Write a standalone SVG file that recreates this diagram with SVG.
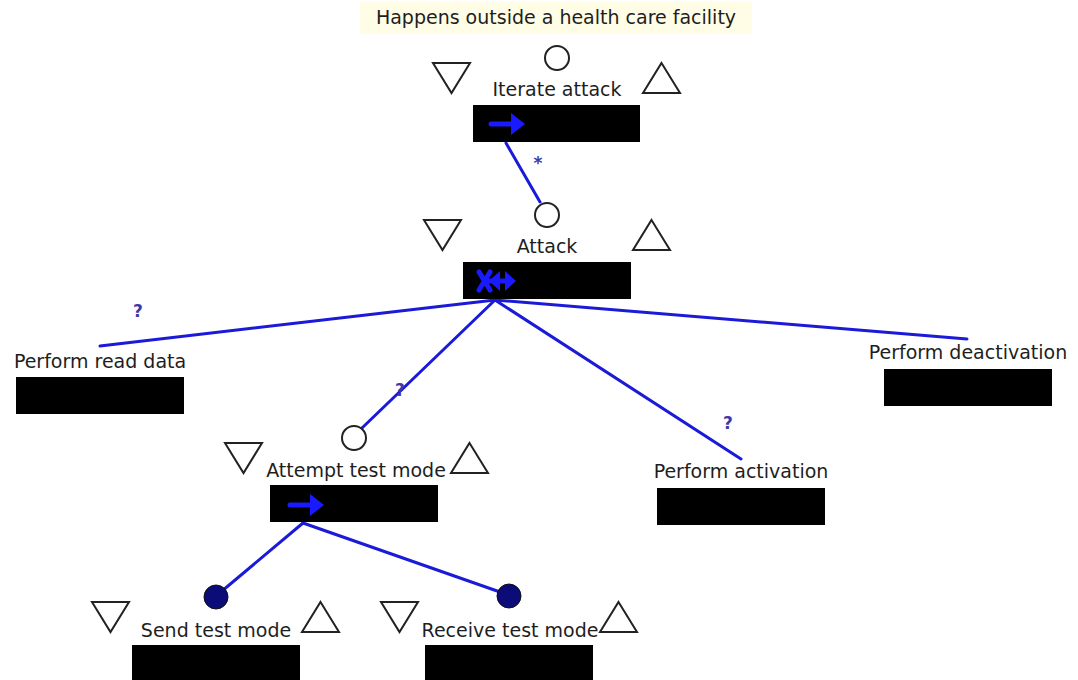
<svg xmlns="http://www.w3.org/2000/svg" width="1078" height="680" viewBox="0 0 1078 680">
  <defs>
    <style>
      .lbl { font-family: "DejaVu Sans", "Liberation Sans", sans-serif; font-size: 19px; fill: #1e1e1e; text-anchor: middle; }
      .note { font-family: "DejaVu Sans", "Liberation Sans", sans-serif; font-size: 17px; font-weight: bold; fill: #3a3aa8; text-anchor: middle; }
      .box { fill: #000; }
      .tri { fill: #fff; stroke: #222; stroke-width: 2; }
      .opt { fill: #fff; stroke: #222; stroke-width: 2; }
      .leaf { fill: #0c0c78; stroke: #111; stroke-width: 1; }
      .edge { stroke: #1a1ad8; stroke-width: 3; fill: none; stroke-linecap: round; }
      .icon { stroke: #1a1aff; stroke-width: 5; fill: none; stroke-linecap: round; stroke-linejoin: round; }
      .head { fill: #1a1aff; }
    </style>
    <!-- sequential operator: single arrow -->
    <g id="seqIcon">
      <path class="icon" d="M2 0 H24"/>
      <path class="head" d="M22 -11 L36 0 L22 11 Z"/>
    </g>
    <!-- choice operator: crossed tail with double arrow -->
    <g id="choiceIcon">
      <path class="icon" d="M2 -9 L13 9 M2 9 L13 -9 M10 0 H32"/>
      <path class="head" d="M23 -10 L12 0 L23 10 Z M28 -10 L39 0 L28 10 Z"/>
    </g>
    <path id="down" class="tri" d="M0 0 H37 L18.5 30 Z"/>
    <path id="up" class="tri" d="M18.5 0 L37 30 H0 Z"/>
  </defs>

  <rect width="1078" height="680" fill="#fff"/>

  <!-- banner -->
  <g id="banner">
    <rect x="360" y="2" width="392" height="32" fill="#fffde6"/>
    <text class="lbl" x="556" y="24">Happens outside a health care facility</text>
  </g>

  <!-- connectors -->
  <g id="connectors">
    <line class="edge" x1="506" y1="143" x2="540" y2="202"/>
    <line class="edge" x1="495" y1="300" x2="100" y2="346"/>
    <line class="edge" x1="495" y1="300" x2="362" y2="428"/>
    <line class="edge" x1="495" y1="300" x2="741" y2="459"/>
    <line class="edge" x1="495" y1="300" x2="967" y2="339"/>
    <line class="edge" x1="303" y1="523" x2="222" y2="591"/>
    <line class="edge" x1="303" y1="523" x2="500" y2="592"/>
    <text class="note" x="538" y="169">*</text>
    <text class="note" x="138" y="317">?</text>
    <text class="note" x="400" y="396">?</text>
    <text class="note" x="728" y="429">?</text>
  </g>

  <!-- Iterate attack -->
  <g id="iterate-attack">
    <circle class="opt" cx="557" cy="58" r="12"/>
    <use href="#down" x="433" y="63"/>
    <use href="#up" x="643" y="63"/>
    <text class="lbl" x="557" y="96">Iterate attack</text>
    <rect class="box" x="473" y="105" width="167" height="37"/>
    <use href="#seqIcon" x="489" y="124"/>
  </g>

  <!-- Attack -->
  <g id="attack">
    <circle class="opt" cx="547" cy="215" r="12"/>
    <use href="#down" x="424" y="220"/>
    <use href="#up" x="633" y="220"/>
    <text class="lbl" x="547" y="253">Attack</text>
    <rect class="box" x="463" y="262" width="168" height="37"/>
    <use href="#choiceIcon" x="477" y="281"/>
  </g>

  <!-- Perform read data -->
  <g id="perform-read-data">
    <text class="lbl" x="100" y="368">Perform read data</text>
    <rect class="box" x="16" y="377" width="168" height="37"/>
  </g>

  <!-- Perform deactivation -->
  <g id="perform-deactivation">
    <text class="lbl" x="968" y="359">Perform deactivation</text>
    <rect class="box" x="884" y="369" width="168" height="37"/>
  </g>

  <!-- Perform activation -->
  <g id="perform-activation">
    <text class="lbl" x="741" y="478">Perform activation</text>
    <rect class="box" x="657" y="488" width="168" height="37"/>
  </g>

  <!-- Attempt test mode -->
  <g id="attempt-test-mode">
    <circle class="opt" cx="354" cy="438" r="12"/>
    <use href="#down" x="225" y="443"/>
    <use href="#up" x="451" y="443"/>
    <text class="lbl" x="356" y="477">Attempt test mode</text>
    <rect class="box" x="270" y="485" width="168" height="37"/>
    <use href="#seqIcon" x="288" y="505"/>
  </g>

  <!-- Send test mode -->
  <g id="send-test-mode">
    <circle class="leaf" cx="216" cy="597" r="12"/>
    <use href="#down" x="92" y="602"/>
    <use href="#up" x="302" y="602"/>
    <text class="lbl" x="216" y="637">Send test mode</text>
    <rect class="box" x="132" y="645" width="168" height="37"/>
  </g>

  <!-- Receive test mode -->
  <g id="receive-test-mode">
    <circle class="leaf" cx="509" cy="596" r="12"/>
    <use href="#down" x="381" y="602"/>
    <use href="#up" x="600" y="602"/>
    <text class="lbl" x="510" y="637">Receive test mode</text>
    <rect class="box" x="425" y="645" width="168" height="37"/>
  </g>
</svg>
